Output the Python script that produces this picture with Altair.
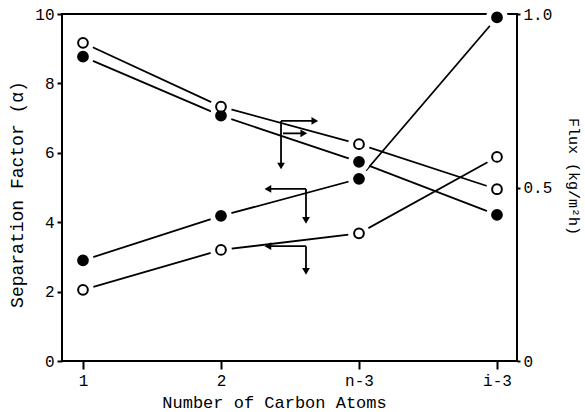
import altair as alt
import pandas as pd

# ---- data ----
x_pos = [1, 2, 3, 4]
x_labels = ["1", "2", "n-3", "i-3"]
sep_filled = [2.9, 4.18, 5.25, 9.9]
sep_open = [2.05, 3.2, 3.68, 5.88]
flux_filled = [0.877, 0.707, 0.574, 0.421]
flux_open = [0.917, 0.733, 0.625, 0.495]

# arrow annotations (in separation-factor / x units)
arrow_x1 = [2.435, 2.449, 2.435, 2.616, 2.616, 2.616, 2.616]
arrow_y1 = [6.92, 6.56, 6.92, 4.96, 4.96, 3.31, 3.31]
arrow_x2 = [2.680, 2.600, 2.435, 2.340, 2.616, 2.340, 2.616]
arrow_y2 = [6.92, 6.56, 5.62, 4.96, 4.05, 3.31, 2.58]
arrow_head = ["triangle-right", "triangle-right", "triangle-down",
              "triangle-left", "triangle-down", "triangle-left", "triangle-down"]

FONT = "Liberation Mono"

rows_left = []
for i, x in enumerate(x_pos):
    rows_left.append({"x": x, "v": sep_filled[i], "series": "sep_filled", "fill": "filled"})
    rows_left.append({"x": x, "v": sep_open[i], "series": "sep_open", "fill": "open"})
rows_right = []
for i, x in enumerate(x_pos):
    rows_right.append({"x": x, "v": flux_filled[i], "series": "flux_filled", "fill": "filled"})
    rows_right.append({"x": x, "v": flux_open[i], "series": "flux_open", "fill": "open"})
df_left = pd.DataFrame(rows_left)
df_right = pd.DataFrame(rows_right)
df_arrow = pd.DataFrame({"x": arrow_x1, "y1": arrow_y1, "x2": arrow_x2,
                         "y2": arrow_y2, "head": arrow_head})

label_expr = "[" + ",".join("'%s'" % s for s in x_labels) + "][datum.value-1]"
x_scale = alt.Scale(domain=[0.848, 4.145], nice=False, zero=False)
x_axis = alt.Axis(values=x_pos, labelExpr=label_expr, title="Number of Carbon Atoms",
                  grid=False, domain=False, tickSize=8, tickWidth=2, tickColor="black",
                  labelFont=FONT, labelFontSize=16, labelColor="black", labelPadding=3,
                  titleFont=FONT, titleFontSize=17, titleFontWeight="normal",
                  titleColor="black", titlePadding=6, titleX=212)
yl_scale = alt.Scale(domain=[0, 10], nice=False, zero=True)
yr_scale = alt.Scale(domain=[0, 1], nice=False, zero=True)
yl_axis = alt.Axis(values=[0, 2, 4, 6, 8, 10], title="Separation Factor (α)", grid=False,
                   domain=False, tickSize=5, tickWidth=2, tickColor="black",
                   labelFont=FONT, labelFontSize=16, labelColor="black", labelPadding=3,
                   titleFont=FONT, titleFontSize=18, titleFontWeight="normal",
                   titleColor="black", titlePadding=8, titleY=180)
yr_axis = alt.Axis(orient="right", values=[0, 0.5, 1.0], title="Flux (kg/m²h)", grid=False,
                   labelExpr="datum.value == 0 ? '0' : format(datum.value, '.1f')",
                   domain=False, tickSize=3, tickWidth=2, tickColor="black",
                   labelFont=FONT, labelFontSize=16, labelColor="black", labelPadding=3,
                   titleFont=FONT, titleFontSize=15, titleFontWeight="normal",
                   titleColor="black", titleAngle=90, titlePadding=14, titleY=162)

X = alt.X("x:Q", scale=x_scale, axis=x_axis)
YL = alt.Y("v:Q", scale=yl_scale, axis=yl_axis)
YLn = alt.Y("v:Q", scale=yl_scale, axis=None)
YR = alt.Y("v:Q", scale=yr_scale, axis=yr_axis)
YRn = alt.Y("v:Q", scale=yr_scale, axis=None)

fill_enc = alt.Fill("fill:N", scale=alt.Scale(domain=["filled", "open"], range=["black", "white"]),
                    legend=None)

lines_left = alt.Chart(df_left).mark_line(color="black", strokeWidth=1.8).encode(
    x=X, y=YL, detail="series:N")
lines_right = alt.Chart(df_right).mark_line(color="black", strokeWidth=1.8).encode(
    x=X, y=YR, detail="series:N")

arrow_lines = alt.Chart(df_arrow).mark_rule(color="black", strokeWidth=1.8).encode(
    x=X, x2="x2:Q",
    y=alt.Y("y1:Q", scale=yl_scale, axis=None), y2="y2:Q")
arrow_heads = alt.Chart(df_arrow).mark_point(filled=True, color="black", size=60, opacity=1).encode(
    x=alt.X("x2:Q", scale=x_scale, axis=x_axis),
    y=alt.Y("y2:Q", scale=yl_scale, axis=None),
    shape=alt.Shape("head:N", scale=None))

halo_left = alt.Chart(df_left).mark_circle(color="white", size=470, opacity=1).encode(x=X, y=YLn)
halo_right = alt.Chart(df_right).mark_circle(color="white", size=470, opacity=1).encode(x=X, y=YRn)
pts_left = alt.Chart(df_left).mark_point(shape="circle", filled=True, stroke="black",
                                         strokeWidth=2, size=95, opacity=1).encode(
    x=X, y=YLn, fill=fill_enc)
pts_right = alt.Chart(df_right).mark_point(shape="circle", filled=True, stroke="black",
                                           strokeWidth=2, size=95, opacity=1).encode(
    x=X, y=YRn, fill=fill_enc)

chart = alt.layer(
    lines_left, lines_right, arrow_lines, arrow_heads,
    halo_left, halo_right, pts_left, pts_right
).resolve_scale(y="independent").properties(
    width=455, height=347,
    padding={"left": 62, "top": 14, "right": 68, "bottom": 51},
    autosize=alt.AutoSizeParams(type="none"),
    background="white",
).configure_view(stroke="black", strokeWidth=2)

chart.save("out.html", embed_options={"renderer": "svg", "actions": False})
